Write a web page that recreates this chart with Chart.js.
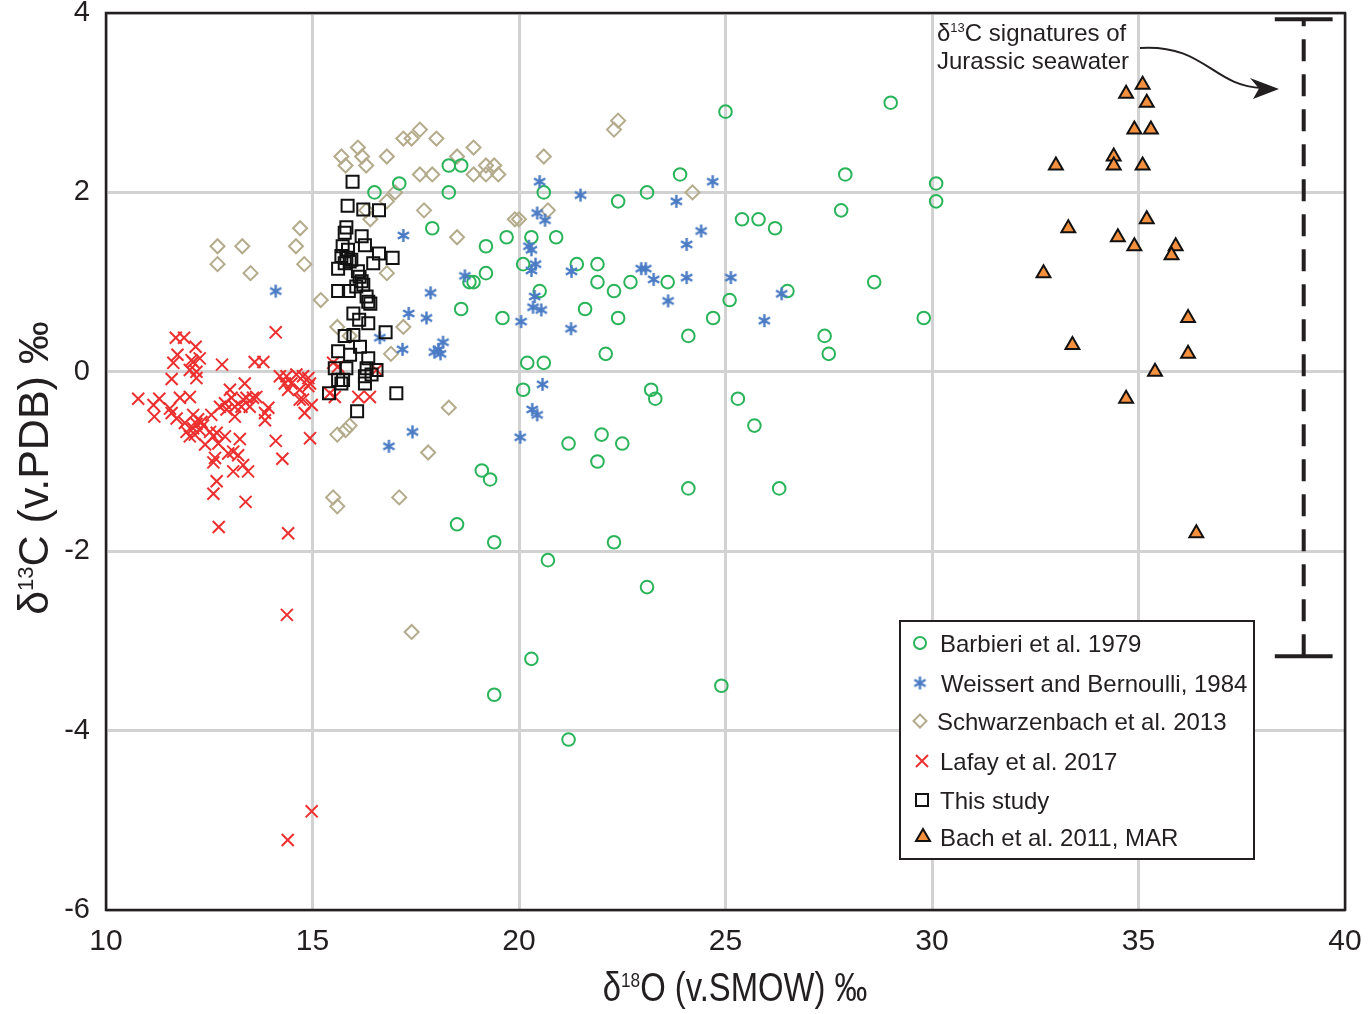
<!DOCTYPE html>
<html>
<head>
<meta charset="utf-8">
<script src="https://cdn.jsdelivr.net/npm/chart.js@4.4.0/dist/chart.umd.min.js"></script>
<style>
  html, body { margin: 0; padding: 0; background: #fff; }
</style>
</head>
<body>
<canvas id="chart" width="1368" height="1014"></canvas>
<script>
// d18O (x), d13C (y) pairs
var barbieri = [
  [18.3,2.3],[18.6,2.3],[18.3,2.0],[20.6,2.0],[23.9,2.2],[22.4,1.9],[23.1,2.0],[19.7,1.5],[20.3,1.5],[20.9,1.5],
  [19.2,1.4],[20.1,1.2],[21.4,1.2],[21.9,1.2],[19.2,1.1],[18.8,1.0],[18.9,1.0],[21.9,1.0],[22.7,1.0],[23.6,1.0],
  [22.3,0.9],[20.5,0.9],[18.6,0.7],[21.6,0.7],[19.6,0.6],[22.4,0.6],[24.1,0.4],[22.1,0.2],[20.2,0.1],[20.6,0.1],
  [16.5,2.0],[17.1,2.1],[17.9,1.6],
  [20.1,-0.2],[23.2,-0.2],[23.3,-0.3],[21.2,-0.8],[22.0,-0.7],[22.5,-0.8],[21.9,-1.0],[19.1,-1.1],[19.3,-1.2],
  [24.1,-1.3],[18.5,-1.7],[19.4,-1.9],[22.3,-1.9],[20.7,-2.1],[23.1,-2.4],[20.3,-3.2],[19.4,-3.6],[21.2,-4.1],
  [25.0,2.9],[29.0,3.0],[27.9,2.2],[30.1,2.1],[30.1,1.9],[27.8,1.8],[25.4,1.7],[25.8,1.7],[26.2,1.6],[28.6,1.0],
  [26.5,0.9],[25.1,0.8],[24.7,0.6],[27.4,0.4],[27.5,0.2],[29.8,0.6],
  [25.3,-0.3],[25.7,-0.6],[26.3,-1.3],[24.9,-3.5]
];
var weissert = [
  [20.5,2.12],[21.49,1.97],[23.81,1.9],[24.69,2.12],[20.44,1.77],[20.63,1.69],[24.41,1.57],[24.06,1.42],[20.24,1.4],[20.3,1.36],
  [20.4,1.2],[20.3,1.13],[21.27,1.12],[22.96,1.15],[23.07,1.15],[23.26,1.03],[24.06,1.05],[25.13,1.05],[18.69,1.07],[20.38,0.84],
  [20.34,0.72],[20.54,0.69],[23.61,0.79],[26.36,0.87],[20.05,0.56],[21.26,0.48],[25.94,0.57],[18.16,0.33],[18.05,0.25],[17.95,0.22],
  [18.1,0.2],[17.2,1.52],[14.11,0.9],[17.86,0.88],[17.33,0.65],[17.76,0.6],[16.63,0.38],[17.18,0.25],[20.57,-0.14],[20.32,-0.42],
  [20.44,-0.48],[20.03,-0.73],[17.42,-0.67],[16.85,-0.83]
];
var schwarzenbach = [
  [17.6,2.7],[17.4,2.6],[17.2,2.6],[18.0,2.6],[18.9,2.5],[16.1,2.5],[16.2,2.4],[15.7,2.4],[16.8,2.4],[15.8,2.3],
  [16.3,2.3],[18.5,2.4],[19.2,2.3],[19.4,2.3],[18.9,2.2],[19.2,2.2],[19.5,2.2],[17.6,2.2],[17.9,2.2],[17.0,2.0],
  [16.8,1.9],[17.7,1.8],[16.4,1.7],[16.3,1.8],[18.5,1.5],[19.9,1.7],[14.7,1.6],[13.3,1.4],[14.6,1.4],[12.7,1.4],
  [12.7,1.2],[13.5,1.1],[14.8,1.2],[16.8,1.1],[15.2,0.8],[15.6,0.5],[17.2,0.5],[15.9,0.4],[16.9,0.2],
  [22.4,2.8],[22.3,2.7],[20.6,2.4],[20.7,1.8],[20.0,1.7],[24.2,2.0],[18.3,-0.4],[17.8,-0.9],[17.1,-1.4],
  [15.5,-1.4],[15.6,-1.5],[15.6,-0.7],[15.8,-0.65],[15.9,-0.6],[17.4,-2.9]
];
var lafay = [
  [11.69,0.38],[11.89,0.38],[12.17,0.28],[11.73,0.19],[12.07,0.13],[12.11,0.11],[12.27,0.15],[11.63,0.1],[12.03,0.02],[12.19,0.0],
  [11.59,-0.08],[12.19,-0.07],[12.81,0.08],[14.11,0.44],[13.6,0.11],[13.81,0.11],[13.36,-0.13],[13.0,-0.2],[13.04,-0.29],[10.78,-0.3],
  [11.15,-0.37],[11.29,-0.3],[11.17,-0.5],[11.79,-0.29],[12.03,-0.28],[11.55,-0.41],[11.59,-0.46],[11.71,-0.52],
  [12.11,-0.48],[12.23,-0.53],[12.19,-0.58],[12.31,-0.56],[12.11,-0.63],[12.27,-0.65],[12.35,-0.6],[12.15,-0.7],
  [11.91,-0.57],[11.95,-0.67],[12.03,-0.72],[12.55,-0.48],[12.76,-0.39],[12.88,-0.35],[12.52,-0.67],[12.4,-0.81],
  [12.6,-0.72],[12.68,-0.68],[12.72,-0.8],[12.88,-0.72],[12.92,-0.42],[13.12,-0.39],[13.12,-0.5],[13.32,-0.31],
  [13.4,-0.29],[13.56,-0.29],[13.64,-0.28],[13.28,-0.39],[13.48,-0.39],[13.85,-0.46],[13.93,-0.4],[13.85,-0.54],
  [13.24,-0.75],[13.08,-0.89],[12.96,-0.91],[13.2,-0.93],[12.64,-0.96],[12.6,-1.01],[13.32,-1.04],[13.44,-1.11],
  [13.08,-1.11],[12.68,-1.22],[12.6,-1.36],[13.38,-1.45],[12.73,-1.73],[14.11,-0.77],[14.27,-0.97],[14.41,-1.8],
  [14.21,-0.05],[14.37,-0.05],[14.49,-0.13],[14.61,-0.03],[14.77,-0.05],[14.9,-0.07],[14.94,-0.13],
  [14.33,-0.13],[14.41,-0.2],[14.69,-0.2],[14.77,-0.31],[14.69,-0.31],[14.98,-0.37],[14.81,-0.46],[14.9,-0.16],
  [14.94,-0.74],[14.38,-2.71],[14.98,-4.9],[14.4,-5.22],
  [15.5,0.1],[15.62,0.06],[15.42,-0.24],[15.54,-0.28],[16.11,-0.28],[16.39,-0.28],[16.55,0.02]
];
var thisStudy = [
  [15.97,2.12],[15.85,1.85],[16.23,1.81],[16.61,1.8],[15.82,1.61],[15.78,1.55],[16.19,1.51],[16.27,1.41],[15.73,1.4],[15.86,1.36],
  [15.7,1.29],[15.82,1.27],[15.9,1.23],[15.78,1.21],[15.94,1.25],[15.62,1.15],[16.61,1.32],[16.47,1.21],[16.94,1.27],
  [16.1,1.12],[16.14,1.06],[16.19,1.01],[16.06,0.95],[16.23,0.97],[15.62,0.9],[15.88,0.9],[16.31,0.84],[16.35,0.78],[16.4,0.76],
  [15.99,0.65],[16.13,0.58],[16.35,0.54],[16.77,0.44],[15.78,0.4],[15.99,0.41],[16.15,0.28],[15.62,0.23],[15.91,0.19],[16.35,0.15],
  [15.54,0.04],[15.82,0.04],[16.31,0.04],[16.55,0.02],[15.62,-0.09],[15.74,-0.09],[15.7,-0.13],[16.27,-0.05],[16.27,-0.13],[16.43,-0.03],
  [15.4,-0.24],[17.03,-0.24],[16.08,-0.44]
];
var bach = [
  [35.1,3.2],[34.7,3.1],[35.2,3.0],[34.9,2.7],[35.3,2.7],[34.4,2.4],[34.4,2.3],[33.0,2.3],[35.1,2.3],[35.2,1.7],
  [33.3,1.6],[34.5,1.5],[34.9,1.4],[35.9,1.4],[35.8,1.3],[32.7,1.1],[36.2,0.6],[33.4,0.3],[36.2,0.2],[35.4,0.0],
  [34.7,-0.3],[36.4,-1.8]
];
// Jurassic seawater d13C range, drawn at x = 39
var seawaterX = 39;
var seawaterRange = [-3.17, 3.93];
var seawaterCap = 0.7;

var xTicks = [10, 15, 20, 25, 30, 35, 40];
var yTicks = [-6, -4, -2, 0, 2, 4];

var legendLabels = ['Barbieri et al. 1979', 'Weissert and Bernoulli, 1984', 'Schwarzenbach et al. 2013',
                    'Lafay et al. 2017', 'This study', 'Bach et al. 2011, MAR'];

var INK = '#231f20';
var GREEN = '#2ab45a', BLUE = '#4a7bc4', TAN = '#b3ab8b', RED = '#ec2f2f', ORANGE = '#f5903f';
var FONT = "'Liberation Sans', Arial, Helvetica, sans-serif";

function toXY(arr) { return arr.map(function (p) { return { x: p[0], y: p[1] }; }); }

// blue 6-arm asterisk used as point style
function makeAsterisk(color, r) {
  var c = document.createElement('canvas');
  var s = Math.ceil(r * 2 + 4);
  c.width = s; c.height = s;
  var g = c.getContext('2d');
  g.strokeStyle = color; g.lineWidth = 2.4;
  g.beginPath();
  [90, 30, 150].forEach(function (a) {
    var rad = a * Math.PI / 180;
    g.moveTo(s / 2 - Math.cos(rad) * r, s / 2 - Math.sin(rad) * r);
    g.lineTo(s / 2 + Math.cos(rad) * r, s / 2 + Math.sin(rad) * r);
  });
  g.stroke();
  return c;
}
var asterisk = makeAsterisk(BLUE, 6.5);

function drawMarker(ctx, kind, x, y) {
  ctx.save();
  ctx.lineWidth = 2;
  ctx.beginPath();
  if (kind === 'circle') {
    ctx.strokeStyle = GREEN; ctx.arc(x, y, 6, 0, Math.PI * 2); ctx.stroke();
  } else if (kind === 'star') {
    ctx.drawImage(asterisk, x - asterisk.width / 2, y - asterisk.height / 2);
  } else if (kind === 'diamond') {
    ctx.strokeStyle = TAN;
    ctx.moveTo(x - 6.5, y); ctx.lineTo(x, y - 6.5); ctx.lineTo(x + 6.5, y); ctx.lineTo(x, y + 6.5); ctx.closePath(); ctx.stroke();
  } else if (kind === 'x') {
    ctx.strokeStyle = RED; var d = 6;
    ctx.moveTo(x - d, y - d); ctx.lineTo(x + d, y + d); ctx.moveTo(x + d, y - d); ctx.lineTo(x - d, y + d); ctx.stroke();
  } else if (kind === 'square') {
    ctx.strokeStyle = '#111'; ctx.strokeRect(x - 6, y - 6, 12, 12);
  } else if (kind === 'triangle') {
    ctx.fillStyle = ORANGE; ctx.strokeStyle = '#111';
    ctx.moveTo(x, y - 8); ctx.lineTo(x + 7, y + 4); ctx.lineTo(x - 7, y + 4); ctx.closePath(); ctx.fill(); ctx.stroke();
  }
  ctx.restore();
}

// text with superscript pieces: parts = [[text, isSup], ...]
function supWidth(ctx, parts, size, supSize) {
  var w = 0;
  parts.forEach(function (p) {
    ctx.font = (p[1] ? supSize : size) + 'px ' + FONT;
    w += ctx.measureText(p[0]).width;
  });
  return w;
}
function drawSup(ctx, parts, x, y, size, supSize, rise) {
  var cx = x;
  parts.forEach(function (p) {
    ctx.font = (p[1] ? supSize : size) + 'px ' + FONT;
    ctx.fillText(p[0], cx, p[1] ? y - rise : y);
    cx += ctx.measureText(p[0]).width;
  });
}

var extras = {
  id: 'extras',
  afterDraw: function (chart) {
    var ctx = chart.ctx, a = chart.chartArea;
    ctx.save();
    // frame
    ctx.strokeStyle = INK; ctx.lineWidth = 2.5;
    ctx.strokeRect(a.left, a.top, a.right - a.left, a.bottom - a.top);

    ctx.fillStyle = INK;
    ctx.textAlign = 'left'; ctx.textBaseline = 'alphabetic';

    // x title (condensed)
    var xParts = [['\u03b4', false], ['18', true], ['O (v.SMOW) \u2030', false]];
    var sx = 0.82;
    var wx = supWidth(ctx, xParts, 40, 21) * sx;
    ctx.save();
    ctx.translate(735 - wx / 2, 1001);
    ctx.scale(sx, 1);
    drawSup(ctx, xParts, 0, 0, 40, 21, 14);
    ctx.restore();

    // y title
    var yParts = [['\u03b4', false], ['13', true], ['C (v.PDB) \u2030', false]];
    var wy = supWidth(ctx, yParts, 43, 22);
    ctx.save();
    ctx.translate(48, 468);
    ctx.rotate(-Math.PI / 2);
    drawSup(ctx, yParts, -wy / 2, 0, 43, 22, 15);
    ctx.restore();

    // annotation
    drawSup(ctx, [['\u03b4', false], ['13', true], ['C signatures of', false]], 937, 41, 24, 13, 9);
    ctx.font = '24px ' + FONT;
    ctx.fillText('Jurassic seawater', 937, 69);

    // arrow
    ctx.strokeStyle = INK; ctx.lineWidth = 2;
    ctx.beginPath();
    ctx.moveTo(1140, 48);
    ctx.bezierCurveTo(1205, 44, 1212, 86, 1262, 88);
    ctx.stroke();
    ctx.beginPath();
    ctx.moveTo(1279, 89); ctx.lineTo(1250, 78); ctx.lineTo(1259, 88.5); ctx.lineTo(1253, 99); ctx.closePath();
    ctx.fill();

    // legend box
    var lx = 900, ly = 621, lw = 354, lh = 238;
    ctx.fillStyle = '#fff'; ctx.fillRect(lx, ly, lw, lh);
    ctx.strokeStyle = INK; ctx.lineWidth = 2; ctx.strokeRect(lx, ly, lw, lh);
    var kinds = ['circle', 'star', 'diamond', 'x', 'square', 'triangle'];
    var rows = [643, 683, 721, 761, 800, 837];
    var textX = [940, 941, 937, 940, 940, 940];
    var markX = [920, 920, 920, 922, 922, 923];
    legendLabels.forEach(function (t, i) {
      drawMarker(ctx, kinds[i], markX[i], rows[i]);
      ctx.fillStyle = INK;
      ctx.font = '24px ' + FONT;
      ctx.fillText(t, textX[i], rows[i] + 9);
    });
    ctx.restore();
  }
};

function fixWidth(w) {
  return function (scale) {
    scale.width = w;
    scale.paddingTop = 0; scale.paddingBottom = 0; scale.paddingLeft = 0; scale.paddingRight = 0;
  };
}
function fixHeight(h) {
  return function (scale) {
    scale.height = h;
    scale.paddingTop = 0; scale.paddingBottom = 0; scale.paddingLeft = 0; scale.paddingRight = 0;
  };
}

var seaLine = [{ x: seawaterX, y: seawaterRange[0] }, { x: seawaterX, y: seawaterRange[1] }];
var capTop = [{ x: seawaterX - seawaterCap, y: seawaterRange[1] }, { x: seawaterX + seawaterCap, y: seawaterRange[1] }];
var capBottom = [{ x: seawaterX - seawaterCap, y: seawaterRange[0] }, { x: seawaterX + seawaterCap, y: seawaterRange[0] }];

new Chart(document.getElementById('chart'), {
  type: 'scatter',
  data: {
    datasets: [
      { label: legendLabels[4], data: toXY(thisStudy), order: 0, pointStyle: 'rect', pointRadius: 8.5,
        borderColor: '#111', backgroundColor: 'rgba(0,0,0,0)', borderWidth: 2 },
      { label: legendLabels[5], data: toXY(bach), order: 1, pointStyle: 'triangle', pointRadius: 8,
        borderColor: '#111', backgroundColor: ORANGE, borderWidth: 2 },
      { label: legendLabels[3], data: toXY(lafay), order: 2, pointStyle: 'crossRot', pointRadius: 8.5,
        borderColor: RED, borderWidth: 2 },
      { label: legendLabels[1], data: toXY(weissert), order: 3, pointStyle: asterisk, pointRadius: 7 },
      { label: legendLabels[0], data: toXY(barbieri), order: 4, pointStyle: 'circle', pointRadius: 6.3,
        borderColor: GREEN, backgroundColor: 'rgba(0,0,0,0)', borderWidth: 2 },
      { label: legendLabels[2], data: toXY(schwarzenbach), order: 5, pointStyle: 'rectRot', pointRadius: 7,
        borderColor: TAN, backgroundColor: 'rgba(0,0,0,0)', borderWidth: 2 },
      { label: 'seawater', data: seaLine, showLine: true, pointRadius: 0, borderColor: INK,
        borderWidth: 4, borderDash: [22, 13], order: 6 },
      { label: 'cap top', data: capTop, showLine: true, pointRadius: 0, borderColor: INK, borderWidth: 4, order: 6 },
      { label: 'cap bottom', data: capBottom, showLine: true, pointRadius: 0, borderColor: INK, borderWidth: 4, order: 6 }
    ]
  },
  options: {
    responsive: false,
    animation: false,
    layout: { autoPadding: false, padding: { top: 13, right: 23, left: 0, bottom: 0 } },
    plugins: { legend: { display: false }, tooltip: { enabled: false } },
    scales: {
      x: {
        type: 'linear', min: 10, max: 40,
        afterBuildTicks: function (s) { s.ticks = xTicks.map(function (v) { return { value: v }; }); },
        afterFit: fixHeight(104),
        grid: { color: '#d2d2d2', lineWidth: 3, drawTicks: false },
        border: { display: false },
        ticks: { color: INK, padding: 14, maxRotation: 0, autoSkip: false,
                 font: { family: "'Liberation Sans Narrow', 'Arial Narrow', " + FONT, size: 30 } }
      },
      y: {
        type: 'linear', min: -6, max: 4,
        afterBuildTicks: function (s) { s.ticks = yTicks.map(function (v) { return { value: v }; }); },
        afterFit: fixWidth(106),
        grid: { color: '#d2d2d2', lineWidth: 3, drawTicks: false },
        border: { display: false },
        ticks: { color: INK, padding: 16, autoSkip: false, font: { family: FONT, size: 29 } }
      }
    }
  },
  plugins: [extras]
});
</script>
</body>
</html>
